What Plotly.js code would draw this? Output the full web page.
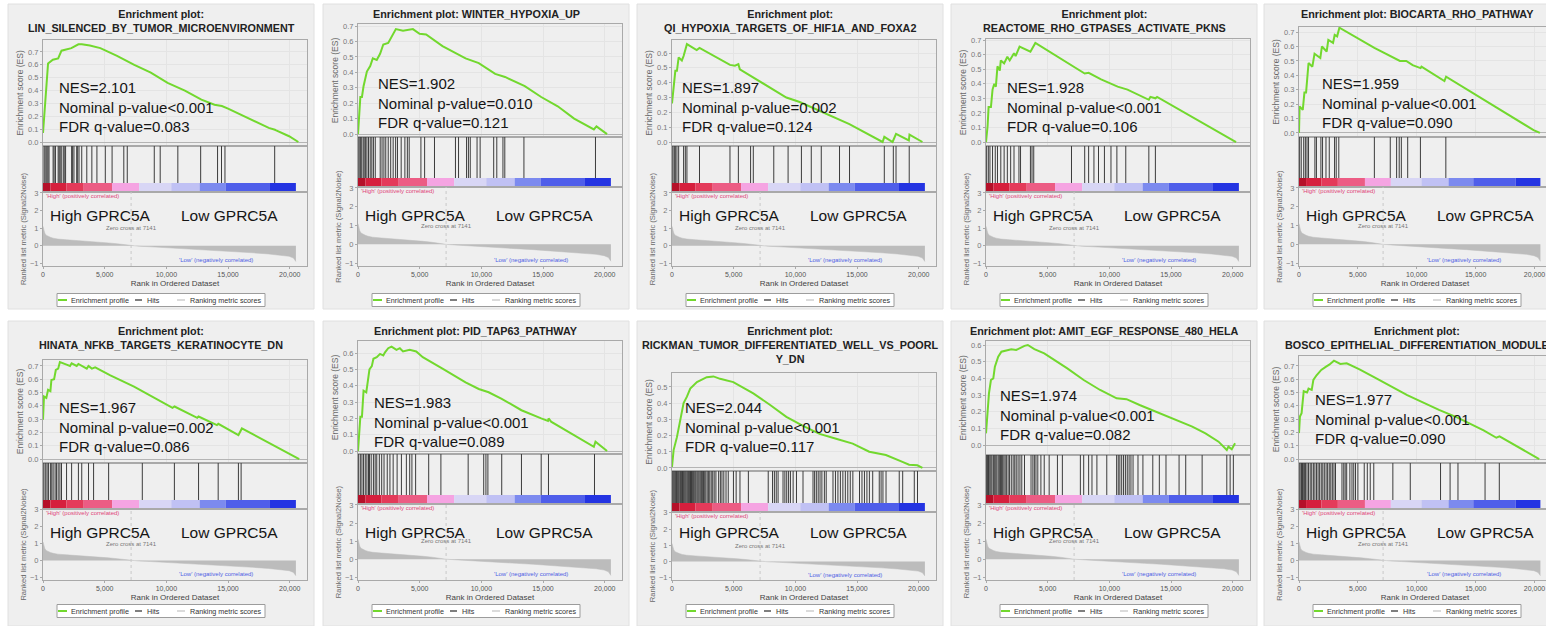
<!DOCTYPE html>
<html>
<head>
<meta charset="utf-8">
<script src="https://cdn.plot.ly/plotly-3.0.1.min.js"></script>
<style>
html,body{margin:0;padding:0;overflow:hidden;background:#fff;}
#chart{width:1572px;height:626px;}
</style>
</head>
<body>
<div id="chart"></div>
<script>
// ---------------- DATA ----------------
const titles = [
  ['Enrichment plot:', 'LIN_SILENCED_BY_TUMOR_MICROENVIRONMENT'],
  ['Enrichment plot: WINTER_HYPOXIA_UP'],
  ['Enrichment plot:', 'QI_HYPOXIA_TARGETS_OF_HIF1A_AND_FOXA2'],
  ['Enrichment plot:', 'REACTOME_RHO_GTPASES_ACTIVATE_PKNS'],
  ['Enrichment plot: BIOCARTA_RHO_PATHWAY'],
  ['Enrichment plot:', 'HINATA_NFKB_TARGETS_KERATINOCYTE_DN'],
  ['Enrichment plot: PID_TAP63_PATHWAY'],
  ['Enrichment plot:', 'RICKMAN_TUMOR_DIFFERENTIATED_WELL_VS_POORL', 'Y_DN'],
  ['Enrichment plot: AMIT_EGF_RESPONSE_480_HELA'],
  ['Enrichment plot:', 'BOSCO_EPITHELIAL_DIFFERENTIATION_MODULE']
];
const nes_values = ['2.101', '1.902', '1.897', '1.928', '1.959', '1.967', '1.983', '2.044', '1.974', '1.977'];
const nominal_p = ['<0.001', '=0.010', '=0.002', '<0.001', '<0.001', '=0.002', '<0.001', '<0.001', '<0.001', '<0.001'];
const fdr_q = ['0.083', '0.121', '0.124', '0.106', '0.090', '0.086', '0.089', '0.117', '0.082', '0.090'];

const group_high = 'High GPRC5A';
const group_low = 'Low GPRC5A';
const zero_cross = 7141;
const rank_ticks = [0, 5000, 10000, 15000, 20000];
const metric_ticks = [-1, 0, 1, 2, 3];

// running enrichment score: rank / ES
const es_rank_1 = [0, 410, 800, 1230, 1500, 1900, 2300, 2870, 3150, 3800, 4650, 6000, 7400, 8740, 10100, 11500, 12840, 13900, 14500, 15000, 16100, 17200, 18300, 18800, 18900, 19950, 20700];
const es_val_1  = [0.07, 0.61, 0.64, 0.65, 0.71, 0.72, 0.73, 0.76, 0.76, 0.75, 0.73, 0.67, 0.60, 0.54, 0.46, 0.40, 0.33, 0.29, 0.28, 0.26, 0.21, 0.16, 0.11, 0.095, 0.09, 0.045, 0.0];
const es_rank_2 = [0, 190, 320, 450, 720, 990, 1200, 1520, 1790, 2050, 2450, 2850, 3070, 3650, 4450, 4990, 5520, 6850, 8720, 9790, 11120, 11920, 13520, 14850, 16190, 17520, 19120, 19330, 20190];
const es_val_2  = [0.0, 0.24, 0.24, 0.31, 0.405, 0.44, 0.49, 0.48, 0.52, 0.58, 0.59, 0.65, 0.68, 0.67, 0.68, 0.65, 0.645, 0.57, 0.49, 0.46, 0.39, 0.37, 0.31, 0.24, 0.18, 0.10, 0.03, 0.05, 0.0];
const es_rank_3 = [0, 130, 270, 400, 540, 800, 940, 1210, 2000, 2230, 4700, 5100, 5380, 5500, 9270, 10350, 11960, 13570, 14380, 17070, 17210, 17880, 18160, 19200, 19250, 20300];
const es_val_3  = [0.26, 0.37, 0.48, 0.48, 0.57, 0.55, 0.58, 0.66, 0.62, 0.635, 0.52, 0.515, 0.525, 0.49, 0.30, 0.27, 0.21, 0.145, 0.12, 0.0, 0.035, 0.0, 0.055, 0.01, 0.05, 0.0];
const es_rank_4 = [0, 130, 210, 400, 530, 670, 800, 930, 1120, 1200, 1470, 1730, 1920, 2270, 2400, 2720, 3600, 3730, 3870, 4000, 8000, 8320, 9330, 10670, 11470, 13200, 13330, 13730, 13870, 20270];
const es_val_4  = [0.0, 0.11, 0.24, 0.24, 0.36, 0.40, 0.38, 0.52, 0.49, 0.56, 0.54, 0.585, 0.56, 0.61, 0.59, 0.655, 0.62, 0.64, 0.665, 0.68, 0.47, 0.475, 0.43, 0.38, 0.36, 0.29, 0.31, 0.30, 0.31, 0.0];
const es_rank_5 = [0, 50, 320, 460, 600, 680, 810, 1135, 1320, 1810, 1950, 2350, 2490, 2890, 3030, 3240, 3430, 6400, 7760, 8570, 9110, 9650, 10320, 10400, 12350, 12490, 19920, 20460];
const es_val_5  = [0.0, 0.185, 0.16, 0.28, 0.28, 0.39, 0.485, 0.46, 0.55, 0.52, 0.60, 0.565, 0.645, 0.625, 0.68, 0.67, 0.73, 0.59, 0.53, 0.50, 0.50, 0.47, 0.45, 0.46, 0.36, 0.39, 0.02, 0.0];
const es_rank_6 = [0, 80, 270, 410, 600, 680, 900, 1040, 1230, 1370, 1910, 2190, 2320, 2730, 2870, 3550, 3690, 3960, 4230, 5460, 7380, 10500, 10660, 12500, 12610, 14100, 14210, 15570, 15840, 16120, 20770];
const es_val_6  = [0.295, 0.47, 0.46, 0.52, 0.51, 0.595, 0.60, 0.67, 0.68, 0.73, 0.71, 0.70, 0.72, 0.70, 0.715, 0.68, 0.70, 0.68, 0.69, 0.63, 0.545, 0.385, 0.395, 0.31, 0.32, 0.255, 0.265, 0.195, 0.18, 0.23, 0.0];
const es_rank_7 = [0, 130, 190, 320, 450, 670, 800, 930, 1120, 1250, 1520, 1790, 2050, 2190, 2450, 2720, 3120, 3390, 3650, 4190, 4720, 5250, 6850, 8720, 9790, 10590, 11650, 12720, 13250, 14850, 15400, 15450, 15650, 19120, 19250, 20190];
const es_val_7  = [0.0, 0.11, 0.21, 0.21, 0.37, 0.36, 0.45, 0.50, 0.52, 0.565, 0.575, 0.595, 0.585, 0.605, 0.63, 0.64, 0.62, 0.63, 0.61, 0.62, 0.61, 0.575, 0.505, 0.42, 0.38, 0.36, 0.32, 0.27, 0.25, 0.20, 0.185, 0.20, 0.18, 0.026, 0.057, 0.0];
const es_rank_8 = [0, 130, 400, 670, 940, 1210, 1480, 2020, 2820, 3360, 3900, 4970, 6590, 7930, 9270, 10620, 11960, 13300, 14650, 15990, 17340, 18680, 19220, 19890, 20300];
const es_val_8  = [0.006, 0.11, 0.19, 0.29, 0.40, 0.44, 0.49, 0.53, 0.56, 0.565, 0.55, 0.53, 0.46, 0.39, 0.315, 0.26, 0.21, 0.18, 0.15, 0.10, 0.08, 0.037, 0.02, 0.016, 0.0];
const es_rank_9 = [0, 130, 240, 400, 590, 720, 990, 1250, 1790, 2050, 2450, 3120, 3390, 3920, 4720, 6590, 7920, 9250, 10590, 11390, 12450, 14050, 15120, 16720, 17790, 18850, 19520, 19650, 19920, 20190];
const es_val_9  = [0.07, 0.21, 0.31, 0.39, 0.40, 0.47, 0.53, 0.56, 0.57, 0.575, 0.57, 0.595, 0.60, 0.575, 0.55, 0.46, 0.39, 0.33, 0.28, 0.275, 0.24, 0.19, 0.16, 0.11, 0.07, 0.02, -0.03, -0.01, -0.026, 0.01];
const es_rank_10 = [0, 80, 220, 400, 680, 810, 1080, 1220, 1490, 1890, 2300, 2570, 2970, 3510, 4050, 4320, 5140, 6490, 9190, 11890, 13510, 15680, 16760, 17030, 20400];
const es_val_10  = [0.195, 0.32, 0.345, 0.51, 0.50, 0.53, 0.52, 0.595, 0.63, 0.67, 0.695, 0.71, 0.74, 0.715, 0.72, 0.71, 0.675, 0.61, 0.48, 0.37, 0.31, 0.215, 0.16, 0.17, 0.0];

// gene-set hit positions (rank)
const hits_1 = [80,160,250,330,410,490,820,900,1010,1230,1310,1390,1480,1640,1720,1830,2320,2400,2510,2730,2810,2920,3140,3550,3960,4370,5050,5600,6550,6830,9020,9500,10930,12780,14150,14470,14750,18780];
const hits_2 = [20,150,190,300,420,500,600,720,850,990,1120,1250,1400,1800,1950,2100,2250,2450,2650,2850,3050,3200,3500,3800,4000,4150,5100,5400,6200,7900,8150,8800,8950,9100,9650,9900,11000,11250,11750,11900,13450,19250];
const hits_3 = [0,80,190,270,400,540,940,1080,1210,2230,4700,5380,6370,6590,8250,9410,10490,11290,12100,13580,14390,17210,17940,18160,19230];
const hits_4 = [53,190,320,530,750,930,1200,1470,1730,2000,2270,2670,2800,3600,3730,3870,6930,8000,8320,8750,9120,9600,10130,10610,11330,13200,13730];
const hits_5 = [54,190,400,540,680,810,1350,1480,1860,2000,2290,2570,3020,3160,3380,6400,7750,8290,8510,8690,9230,10310,12470];
const hits_6 = [0,80,220,330,440,600,710,820,980,1090,1230,1370,1500,1910,2320,2870,3140,3690,4100,5320,8050,10650,12610,14200,15840,16060];
const hits_7 = [53,190,320,450,590,720,850,930,1070,1250,1390,1520,1730,1920,2110,2370,2590,2850,3170,3520,3920,4190,4370,4670,5730,6720,8930,10190,10370,10530,11650,13250,14850,15440,19170];
const hits_8 = [20,90,160,230,300,360,430,500,560,640,700,780,850,920,990,1060,1130,1210,1280,1350,1430,1500,1580,1650,1730,1800,1880,1950,2040,2120,2200,2290,2380,2460,2550,2650,2740,2850,2950,3060,3180,3300,3420,3560,3780,3920,4050,4200,4380,4560,4980,5200,5510,6190,7800,8150,8300,8450,8600,9000,9150,9300,9450,9600,9820,10090,10620,11430,11560,11700,11850,12000,12150,12350,12500,13050,13250,13450,13650,13850,14050,14250,14450,14660,15200,15400,15600,15800,16000,16270,16800,16950,17100,17350,18420,18700,19640,19900];
const hits_9 = [0,60,130,200,240,320,400,480,590,650,720,800,880,990,1080,1170,1250,1350,1450,1550,1650,1790,1900,2050,2200,2330,2450,2600,2750,2900,3120,3650,3800,3920,4050,4200,4450,4720,5120,5790,6190,7650,7920,8320,8590,8990,9790,10590,10720,10850,11000,11150,11300,11450,11600,11750,11920,12320,12720,13520,14050,14590,15650,16190,17520,19520,19790,20050];
const hits_10 = [0,80,180,220,300,400,480,560,680,810,950,1080,1220,1350,1490,1620,1750,1890,2020,2150,2300,2430,2570,2700,2830,2970,3100,3650,3800,3920,4050,4320,4500,4650,4800,5000,5540,5800,6050,6350,7970,9450,12020,12830,13500,15800,17010];

// ranked list metric (Signal2Noise), shared by all panels
const metric_rank = [0, 60, 140, 250, 410, 600, 820, 1200, 1900, 2600, 3280, 4000, 4640, 5300, 6010, 6600, 7141, 7800, 8740, 10100, 11500, 12840, 14200, 15600, 17000, 18300, 19300, 19950, 20300, 20500];
const metric_val  = [1.1, 0.9, 0.72, 0.6, 0.53, 0.48, 0.43, 0.38, 0.34, 0.31, 0.28, 0.25, 0.21, 0.16, 0.11, 0.05, 0.0, -0.03, -0.06, -0.11, -0.17, -0.23, -0.28, -0.34, -0.40, -0.47, -0.53, -0.6, -0.7, -0.9];

// colour band under the hits (rank segments)
const band_start = [0, 600, 1900, 3300, 5600, 7800, 10400, 12700, 14800, 18400];
const band_end   = [600, 1900, 3300, 5600, 7800, 10400, 12700, 14800, 18400, 20500];
const band_color = ['#b51029', '#d61f3d', '#e43a5a', '#ec5c84', '#f5a4e2', '#d8d6f5', '#c0c1f4', '#7c8aef', '#4f5eea', '#2434e2'];

const ES_RANKS = [es_rank_1, es_rank_2, es_rank_3, es_rank_4, es_rank_5, es_rank_6, es_rank_7, es_rank_8, es_rank_9, es_rank_10];
const ES_VALS = [es_val_1, es_val_2, es_val_3, es_val_4, es_val_5, es_val_6, es_val_7, es_val_8, es_val_9, es_val_10];
const HITS = [hits_1, hits_2, hits_3, hits_4, hits_5, hits_6, hits_7, hits_8, hits_9, hits_10];

// ---------------- LAYOUT GEOMETRY (px) ----------------
const FIG_W = 1572, FIG_H = 626;
const X_MAX = 21400, CB_PX = 9;
const COL_LEFT = [43, 358, 672, 986, 1299];
const COL_W = [264, 264, 264, 264, 252];
const ROW_OFF = [0, 317];
const ROW_MET_BOT = [266, 263];
const ROW_LEG = [300, 294];
const GEOM = [
  {esTop: 40, esBot: 146, cbTop: 183, esRange: [-0.031, 0.793], nesDx: 14, nesY: 107},
  {esTop: 24, esBot: 137, cbTop: 178, esRange: [-0.019, 0.713], nesDx: 18, nesY: 103},
  {esTop: 40, esBot: 146, cbTop: 183, esRange: [-0.027, 0.688], nesDx: 8,  nesY: 107},
  {esTop: 39, esBot: 146, cbTop: 183, esRange: [-0.027, 0.707], nesDx: 19, nesY: 107},
  {esTop: 27, esBot: 137, cbTop: 178, esRange: [-0.028, 0.735], nesDx: 21, nesY: 103},
  {esTop: 43, esBot: 146, cbTop: 183, esRange: [-0.030, 0.745], nesDx: 14, nesY: 110},
  {esTop: 24, esBot: 137, cbTop: 178, esRange: [-0.018, 0.674], nesDx: 14, nesY: 105},
  {esTop: 56, esBot: 154, cbTop: 186, esRange: [-0.019, 0.586], nesDx: 11, nesY: 110},
  {esTop: 24, esBot: 138, cbTop: 178, esRange: [-0.060, 0.624], nesDx: 12, nesY: 98},
  {esTop: 39, esBot: 146, cbTop: 183, esRange: [-0.030, 0.775], nesDx: 14, nesY: 102}
];

const FONT = 'Liberation Sans, Arial, Helvetica, sans-serif';
const fx = p => p / FIG_W;
const fy = p => 1 - p / FIG_H;
const axName = (p, n) => (p === 'x' ? 'xaxis' : 'yaxis') + (n === 1 ? '' : n);
const axRef = (p, n) => p + (n === 1 ? '' : n);
const esc = s => s.replace(/</g, '&lt;');

const traces = [], shapes = [], annotations = [];
const layout = {
  width: FIG_W, height: FIG_H,
  margin: {l: 0, r: 0, t: 0, b: 0},
  paper_bgcolor: '#ffffff', plot_bgcolor: '#ffffff',
  showlegend: false, hovermode: false,
  font: {family: FONT, color: '#333'}
};
const LINE_C = '#a9a9a9';

function txt(text, x, y, size, color, xanchor, yanchor, extra) {
  annotations.push(Object.assign({
    text: text, x: x, y: y, xref: 'paper', yref: 'paper',
    xanchor: xanchor, yanchor: yanchor, showarrow: false,
    font: {family: FONT, size: size, color: color}, align: 'left'
  }, extra || {}));
}

for (let i = 0; i < 10; i++) {
  const g = GEOM[i];
  const col = i % 5, row = Math.floor(i / 5);
  const L = COL_LEFT[col], off = ROW_OFF[row], R = L + COL_W[col];
  const n1 = 3 * i + 1, n2 = 3 * i + 2, n3 = 3 * i + 3;
  const metTop = g.cbTop + CB_PX;
  const xdom = [fx(L), fx(R)];

  // panel background
  shapes.push({type: 'rect', xref: 'paper', yref: 'paper', layer: 'below',
    x0: fx(L - 35), x1: fx(L + 271), y0: fy(Math.min(off + 309, FIG_H)), y1: fy(off + 4),
    fillcolor: '#efefef', line: {color: '#e0e0e0', width: 1}});

  // ES axes
  layout[axName('x', n1)] = {domain: xdom, anchor: axRef('y', n1), range: [0, X_MAX],
    tickvals: rank_ticks, showticklabels: false, ticks: '', showgrid: true, gridcolor: '#e4e4e4',
    zeroline: false, showline: true, linecolor: LINE_C, mirror: true, fixedrange: true};
  layout[axName('y', n1)] = {domain: [fy(off + g.esBot), fy(off + g.esTop)], anchor: axRef('x', n1),
    range: g.esRange, dtick: 0.1, tick0: 0, tickformat: '.1f',
    tickfont: {size: 7.5, color: '#7a7a7a'}, ticks: 'outside', ticklen: 2, tickcolor: '#aaa',
    showgrid: true, gridcolor: '#e4e4e4', zeroline: true, zerolinecolor: '#b4b4b4', zerolinewidth: 1,
    showline: true, linecolor: LINE_C, mirror: true, fixedrange: true,
    title: {text: 'Enrichment score (ES)', font: {size: 8.5, color: '#6a6a6a'}, standoff: 3}};

  // hits axes
  layout[axName('x', n2)] = {domain: xdom, anchor: axRef('y', n2), range: [0, X_MAX],
    showticklabels: false, ticks: '', showgrid: false, zeroline: false,
    showline: true, linecolor: LINE_C, mirror: true, fixedrange: true};
  layout[axName('y', n2)] = {domain: [fy(off + metTop), fy(off + g.esBot)], anchor: axRef('x', n2),
    range: [-CB_PX / (g.cbTop - g.esBot), 1], showticklabels: false, ticks: '', showgrid: false,
    zeroline: false, showline: true, linecolor: LINE_C, mirror: true, fixedrange: true};

  // metric axes
  layout[axName('x', n3)] = {domain: xdom, anchor: axRef('y', n3), range: [0, X_MAX],
    tickvals: rank_ticks, tickformat: ',d', tickfont: {size: 7, color: '#555'},
    ticks: 'outside', ticklen: 2, tickcolor: '#aaa', showgrid: false, zeroline: false,
    showline: true, linecolor: LINE_C, mirror: true, fixedrange: true,
    title: {text: 'Rank in Ordered Dataset', font: {size: 8, color: '#444'}, standoff: 2}};
  layout[axName('y', n3)] = {domain: [fy(off + ROW_MET_BOT[row]), fy(off + metTop)], anchor: axRef('x', n3),
    range: [-1.15, 3.05], tickvals: metric_ticks, tickfont: {size: 7.5, color: '#7a7a7a'},
    ticks: 'outside', ticklen: 2, tickcolor: '#aaa', showgrid: false, zeroline: false,
    showline: true, linecolor: LINE_C, mirror: true, fixedrange: true,
    title: {text: 'Ranked list metric (Signal2Noise)', font: {size: 7.6, color: '#6a6a6a'}, standoff: 2}};

  // ranked metric area
  traces.push({type: 'scatter', mode: 'lines', x: metric_rank, y: metric_val, fill: 'tozeroy',
    fillcolor: '#bcbcbc', line: {color: '#bcbcbc', width: 0.5},
    xaxis: axRef('x', n3), yaxis: axRef('y', n3)});
  shapes.push({type: 'line', xref: axRef('x', n3), yref: axRef('y', n3) + ' domain',
    x0: zero_cross, x1: zero_cross, y0: 0, y1: 1, line: {color: '#c9c9c9', width: 1, dash: 'dot'}});

  // colour band
  traces.push({type: 'bar', x: band_start.map((s, k) => (s + band_end[k]) / 2),
    width: band_start.map((s, k) => band_end[k] - s),
    y: band_start.map(() => CB_PX / (g.cbTop - g.esBot)),
    base: -CB_PX / (g.cbTop - g.esBot),
    marker: {color: band_color, line: {width: 0}},
    xaxis: axRef('x', n2), yaxis: axRef('y', n2)});

  // hits
  const hx = [], hy = [];
  HITS[i].forEach(r => { hx.push(r, r, null); hy.push(0, 1, null); });
  traces.push({type: 'scatter', mode: 'lines', x: hx, y: hy, line: {color: '#3c3c3c', width: 1},
    xaxis: axRef('x', n2), yaxis: axRef('y', n2)});

  // enrichment profile
  traces.push({type: 'scatter', mode: 'lines', x: ES_RANKS[i], y: ES_VALS[i],
    line: {color: '#72d82e', width: 2}, xaxis: axRef('x', n1), yaxis: axRef('y', n1)});

  // title
  txt(titles[i].map(t => '<b>' + t + '</b>').join('<br>'), fx(L - 35 + 153), fy(off + 6), 10.8, '#222', 'center', 'top', {align: 'center'});

  // statistics
  txt('NES=' + nes_values[i] + '<br>Nominal p-value' + esc(nominal_p[i]) + '<br>FDR q-value=' + fdr_q[i],
    fx(L + g.nesDx), fy(off + g.nesY), 15, '#151515', 'left', 'middle');

  // group labels
  txt(group_high, fx(L + 5), fy(off + 215), 15.5, '#151515', 'left', 'middle');
  txt(group_low, fx(L + 136), fy(off + 215), 15.5, '#151515', 'left', 'middle');

  // metric annotations in data coordinates
  annotations.push({text: "'High' (positively correlated)", x: 120, y: 2.82, xref: axRef('x', n3), yref: axRef('y', n3),
    xanchor: 'left', yanchor: 'middle', showarrow: false, font: {family: FONT, size: 6, color: '#e0457a'}});
  annotations.push({text: 'Zero cross at ' + zero_cross, x: zero_cross, y: 0.98, xref: axRef('x', n3), yref: axRef('y', n3),
    xanchor: 'center', yanchor: 'middle', showarrow: false, font: {family: FONT, size: 6, color: '#777'}});
  annotations.push({text: "'Low' (negatively correlated)", x: 14000, y: -0.82, xref: axRef('x', n3), yref: axRef('y', n3),
    xanchor: 'center', yanchor: 'middle', showarrow: false, font: {family: FONT, size: 6, color: '#4e5ee4'}});

  // legend box
  const ly = off + ROW_LEG[row];
  shapes.push({type: 'rect', xref: 'paper', yref: 'paper', x0: fx(L + 14), x1: fx(L + 222),
    y0: fy(ly + 6.5), y1: fy(ly - 6.5), fillcolor: '#ffffff', line: {color: '#9c9c9c', width: 1}});
  [[15, 24, '#72d82e', 2], [92, 99, '#555555', 1.5], [134, 142, '#cfcfcf', 1.5]].forEach(s => {
    shapes.push({type: 'line', xref: 'paper', yref: 'paper', x0: fx(L + s[0]), x1: fx(L + s[1]),
      y0: fy(ly), y1: fy(ly), line: {color: s[2], width: s[3]}});
  });
  txt('Enrichment profile', fx(L + 26), fy(ly), 7.2, '#333', 'left', 'middle');
  txt('Hits', fx(L + 102), fy(ly), 7.2, '#333', 'left', 'middle');
  txt('Ranking metric scores', fx(L + 145), fy(ly), 7.2, '#333', 'left', 'middle');
}

layout.shapes = shapes;
layout.annotations = annotations;
Plotly.newPlot('chart', traces, layout, {staticPlot: true, displayModeBar: false});
</script>
</body>
</html>
